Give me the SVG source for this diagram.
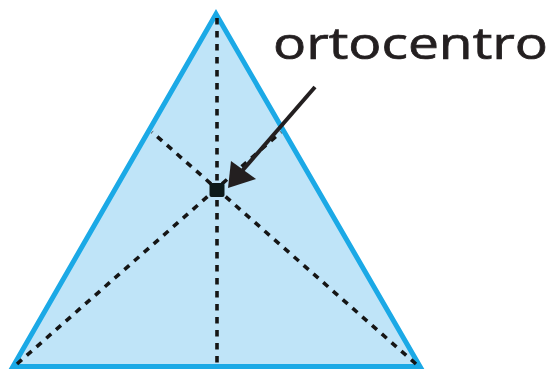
<svg xmlns="http://www.w3.org/2000/svg" width="552" height="369" viewBox="0 0 552 369">
<defs>
<style>
.tri{fill:#bfe4f8;stroke:#1ba9e6;stroke-width:5;stroke-linejoin:miter}
.alt{stroke:#151515;stroke-width:3.6;stroke-dasharray:6.5 6.5;fill:none}
.lbl{font-family:"Open Sans","DejaVu Sans",sans-serif;font-size:43px;fill:#231f20;stroke:#231f20;stroke-width:0.7}
</style>
</defs>
<g id="triangle">
<polygon class="tri" points="216,14 13,366.5 420,366.5"/>
</g>
<g id="connectors">
<line class="alt" x1="217" y1="18" x2="217" y2="366"/>
<line class="alt" x1="416" y1="364" x2="152" y2="132"/>
<line class="alt" x1="17" y1="364" x2="281" y2="132"/>
<line x1="315" y1="87" x2="242" y2="171" stroke="#231f20" stroke-width="4"/>
<path d="M228,188 L231,161 L256,179 z" fill="#231f20"/>
</g>
<g id="orthocenter">
<rect x="209.5" y="183" width="15" height="14" rx="2" fill="#0d1a1a"/>
</g>
<g id="label">
<text class="lbl" x="273" y="59" textLength="275" lengthAdjust="spacingAndGlyphs">ortocentro</text>
</g>
</svg>
